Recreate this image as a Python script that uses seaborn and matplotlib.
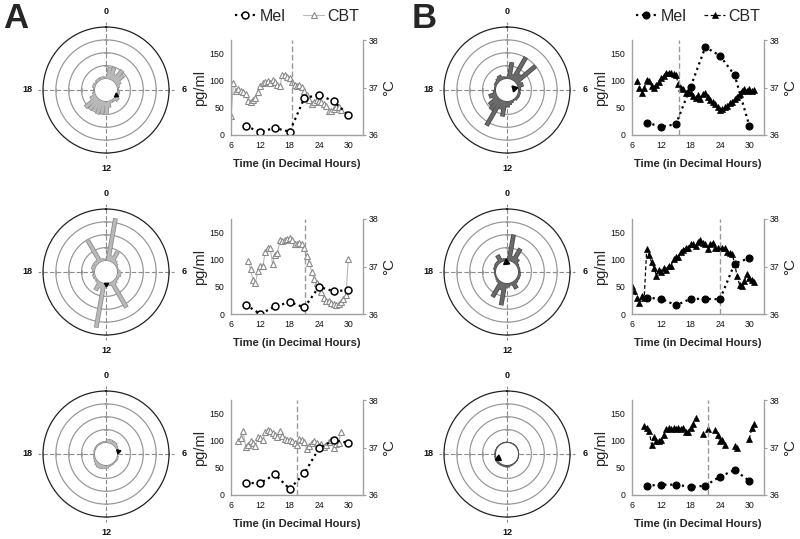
import numpy as np
import pandas as pd
import matplotlib
matplotlib.use("Agg")
import matplotlib.pyplot as plt
from matplotlib.lines import Line2D
import seaborn as sns

# Melatonin samples (pg/ml), one every 3 hours
mel_hours = [9, 12, 15, 18, 21, 24, 27, 30]
mel_a1 = [16, 6, 13, 6, 68, 74, 62, 37]
mel_a2 = [17, 0, 14, 22, 12, 50, 42, 44]
mel_a3 = [22, 22, 38, 11, 40, 86, 101, 96]
mel_b1 = [23, 15, 20, 89, 162, 146, 110, 17]
mel_b2 = [30, 28, 16, 28, 28, 27, 93, 103]
mel_b3 = [17, 19, 19, 15, 17, 34, 46, 26]

# Core body temperature (deg C), one every half hour from the start hour
cbt_step = 0.5
cbt_a1_start = 6.0
cbt_a1 = [36.40, 37.10, 36.93, 36.96, 36.93, 36.90, 36.86, 36.72, 36.70, 36.74,
          36.77, 36.91, 37.03, 37.09, 37.12, 37.14, 37.09, 37.16, 37.12, 37.05,
          37.03, 37.26, 37.26, 37.23, 37.19, 37.11, 37.05, 37.03, 37.05, 37.02,
          36.93, 36.84, 36.74, 36.65, 36.70, 36.74, 36.72, 36.70, 36.65, 36.61,
          36.51, 36.51, 36.54, 36.60, 36.58, 36.53]
cbt_a2_start = 9.5
cbt_a2 = [37.12, 36.94, 36.72, 36.66, 36.90, 37.02, 37.01, 37.30, 37.40, 37.40,
          37.05, 37.24, 37.28, 37.55, 37.54, 37.55, 37.58, 37.61, 37.55, 37.47,
          37.48, 37.50, 37.47, 37.38, 37.22, 37.08, 36.89, 36.74, 36.65, 36.57,
          36.47, 36.34, 36.28, 36.28, 36.23, 36.21, 36.18, 36.20, 36.25, 36.32,
          36.39, 37.15]
cbt_a3_start = 7.5
cbt_a3 = [37.13, 37.21, 37.34, 37.02, 37.06, 37.13, 37.09, 37.04, 37.22, 37.20,
          37.15, 37.32, 37.36, 37.35, 37.30, 37.26, 37.22, 37.35, 37.24, 37.18,
          37.16, 37.15, 37.13, 37.09, 37.06, 37.18, 37.15, 37.11, 36.96, 37.04,
          37.09, 37.13, 37.09, 37.04, 37.08, 37.02, 37.06, 37.11, 37.15, 36.98,
          37.08, 37.09, 37.33]
cbt_b1_start = 7.0
cbt_b1 = [37.14, 37.00, 36.89, 37.00, 37.16, 37.14, 37.03, 37.00, 37.05, 37.12,
          37.19, 37.24, 37.30, 37.31, 37.31, 37.28, 37.26, 37.07, 37.00, 36.96,
          36.89, 36.93, 36.89, 36.82, 36.77, 36.84, 36.76, 36.86, 36.89, 36.81,
          36.74, 36.70, 36.65, 36.58, 36.53, 36.54, 36.58, 36.61, 36.67, 36.70,
          36.75, 36.81, 36.86, 36.93, 36.96, 36.93, 36.96, 36.93, 36.95]
cbt_b2_start = 6.0
cbt_b2 = [36.59, 36.49, 36.33, 36.24, 36.38, 36.34, 37.36, 37.25, 37.09, 36.97,
          36.81, 36.93, 36.88, 36.97, 36.93, 37.02, 37.02, 37.16, 37.19, 37.20,
          37.31, 37.34, 37.40, 37.40, 37.47, 37.47, 37.43, 37.52, 37.56, 37.50,
          37.47, 37.36, 37.47, 37.50, 37.38, 37.38, 37.40, 37.40, 37.40, 37.31,
          37.29, 37.27, 37.05, 36.80, 36.62, 36.58, 36.70, 36.84, 36.76, 36.72,
          36.67]
nan = np.nan
cbt_b3_start = 8.5
cbt_b3 = [37.45, 37.42, 37.35, 37.06, 37.23, 37.13, 37.13, 37.16, 37.27, 37.40,
          37.42, 37.38, 37.42, 37.40, 37.42, 37.38, 37.42, 37.33, 37.33, 37.42,
          37.50, 37.62, nan, nan, 37.28, nan, 37.40, nan, nan, 37.36,
          37.26, 37.13, 37.16, 37.06, nan, nan, nan, 37.03, 36.99, nan,
          nan, nan, nan, 37.18, 37.41, 37.49]

# phase markers (dashed vertical lines, decimal hours)
dlmo_a = [18.4, 21.2, 19.6]
dlmo_b = [15.7, 24.1, 21.6]

# Rose histograms: 36 bins of 10 degrees, clockwise from 0 h
rose_step = 10
rose_a1 = [0.2, 0.9, 0.95, 0.5, 1.1, 0.9, 0.4, 0.2, 0.1, 0.05, 0.2, 0.1,
           0.1, 0.35, 0.2, 0.1, 0.2, 0.5, 0.9, 1.0, 1.1, 0.9, 1.1, 1.2,
           0.5, 0.2, 0.1, 0.05, 0.1, 0.2, 0.15, 0.1, 0.2, 0.1, 0.2, 0.1]
rose_a2 = [0.1, 3.35, 0.45, 0.93, 0.3, 0.2, 0.1, 0.1, 0.05, 0.2, 0.3, 0.2,
           0.15, 0.2, 0.3, 2.3, 0.2, 0.2, 0.1, 3.5, 0.45, 0.75, 0.2, 0.1,
           0.15, 0.2, 0.1, 0.05, 0.2, 0.3, 0.2, 0.3, 0.25, 1.94, 0.2, 0.15]
rose_a3 = [0.1, 0.25, 0.3, 0.2, 0.3, 0.2, 0.15, 0.1, 0.1, 0.05, 0.05, 0.1,
           0.1, 0.05, 0.05, 0.1, 0.1, 0.15, 0.2, 0.25, 0.3, 0.35, 0.3, 0.2,
           0.15, 0.1, 0.1, 0.05, 0.05, 0.1, 0.05, 0.1, 0.1, 0.05, 0.1, 0.1]
rose_b1 = [0.2, 1.3, 0.4, 2.05, 0.7, 2.0, 0.3, 0.45, 0.2, 0.1, 0.1, 0.2,
           0.1, 0.2, 0.1, 0.1, 0.2, 0.3, 0.4, 1.2, 0.7, 2.3, 1.1, 0.9,
           0.4, 0.6, 0.2, 0.1, 0.1, 0.1, 0.2, 0.2, 0.3, 0.4, 0.2, 0.1]
rose_b2 = [0.2, 2.06, 0.4, 1.2, 0.45, 0.2, 0.1, 0.15, 0.1, 0.1, 0.15, 0.2,
           0.15, 0.2, 0.25, 0.6, 0.1, 0.2, 0.3, 1.73, 0.6, 1.35, 0.2, 0.15,
           0.1, 0.05, 0.1, 0.15, 0.1, 0.2, 0.15, 0.25, 0.2, 0.62, 0.2, 0.15]
rose_b3 = [0.06, 0.04, 0.03, 0.04, 0.06, 0.03, 0.04, 0.03, 0.04, 0.06, 0.04, 0.03,
           0.04, 0.06, 0.04, 0.06, 0.08, 0.1, 0.08, 0.1, 0.12, 0.1, 0.12, 0.14,
           0.12, 0.1, 0.08, 0.06, 0.08, 0.06, 0.04, 0.06, 0.04, 0.03, 0.04, 0.06]

# mean vector (direction in degrees, radius)
mean_a = [(115, 0.0), (180, 0.0), (75, 0.1)]
mean_b = [(76, -0.3), (354, -0.15), (246, -0.15)]

sns.set_theme(style="white")
plt.rcParams["font.family"] = ["Liberation Sans", "DejaVu Sans"]

fig = plt.figure(figsize=(8, 5.39), dpi=100)
W, H = 800, 539


def px_rect(left, top, width, height):
    return [left / W, (H - top - height) / H, width / W, height / H]


def draw_rose(cx, cy, values, mean, dark):
    ax = fig.add_axes(px_rect(cx - 63, cy - 63, 126, 126), projection="polar")
    ax.set_theta_zero_location("N")
    ax.set_theta_direction(-1)
    ax.set_ylim(0, 4)
    ax.set_rorigin(-0.9)
    ax.grid(False)
    ax.set_yticks([])
    ax.set_xticks(np.radians([0, 90, 180, 270]))
    ax.set_xticklabels(["0", "6", "12", "18"], fontsize=6.5, fontweight="bold")
    ax.tick_params(axis="x", length=0, pad=4, colors="#111111")
    ax.spines["polar"].set_color("#222222")
    ax.spines["polar"].set_linewidth(0.9)
    ax.spines["inner"].set_color("#555555" if dark else "#8a8a8a")
    ax.spines["inner"].set_linewidth(0.8)

    ring_t = np.linspace(0, 2 * np.pi, 361)
    for r in [1, 2, 3]:
        ax.plot(ring_t, np.full_like(ring_t, r), color="#959595", lw=0.85, zorder=1)
    for t in np.radians([0, 90, 180, 270]):
        ax.plot([t, t], [0, 4.4], color="#8a8a8a", lw=0.8, ls=(0, (4, 2)),
                clip_on=False, zorder=1)
    for t, mk in zip(np.radians([0, 90, 180, 270]), ["_", "|", "_", "|"]):
        ax.plot([t] * 4, [1, 2, 3, 4], ls="none", marker=mk, ms=3, mew=0.8,
                color="#a0a0a0", clip_on=False, zorder=2)

    bar_t = np.radians(np.arange(len(values)) * rose_step)
    edge, face = ("#4a4a4a", "#6a6a6a") if dark else ("#8c8c8c", "#b9b9b9")
    ax.vlines(bar_t, 0, values, colors=edge, lw=3.4, capstyle="butt", zorder=3)
    ax.vlines(bar_t, 0, np.array(values) - 0.04, colors=face, lw=2.2,
              capstyle="butt", zorder=4)

    deg, rad = mean
    ax.plot([np.radians(deg)], [rad], marker=(3, 0, -deg), ms=5 if dark else 3.5,
            color="black", ls="none", clip_on=False, zorder=6)
    return ax


def draw_series(left, top, mel, cbt_start, cbt, dlmo, filled, legend):
    ax = fig.add_axes(px_rect(left, top, 132, 95))
    axt = ax.twinx()
    ax.set_zorder(axt.get_zorder() + 1)
    ax.patch.set_visible(False)

    cbt_df = pd.DataFrame({"hour": cbt_start + cbt_step * np.arange(len(cbt)),
                           "cbt": cbt})
    cbt_df["seg"] = cbt_df["cbt"].isna().cumsum()
    cbt_df = cbt_df.dropna()
    mel_df = pd.DataFrame({"hour": mel_hours, "mel": mel})

    if filled:
        cbt_kw = dict(color="black", linestyle=(0, (3, 2)), lw=0.9, marker="^",
                      markersize=4, markerfacecolor="black",
                      markeredgecolor="black", markeredgewidth=0.5)
        mel_kw = dict(color="black", linestyle=":", lw=1.6, marker="o",
                      markersize=5, markerfacecolor="black",
                      markeredgecolor="black", markeredgewidth=0.8)
    else:
        cbt_kw = dict(color="#b8b8b8", linestyle="-", lw=0.8, marker="^",
                      markersize=4.4, markerfacecolor="white",
                      markeredgecolor="#8a8a8a", markeredgewidth=0.8)
        mel_kw = dict(color="black", linestyle=":", lw=1.6, marker="o",
                      markersize=5, markerfacecolor="white",
                      markeredgecolor="black", markeredgewidth=1.1)

    sns.lineplot(data=cbt_df, x="hour", y="cbt", units="seg", estimator=None,
                 ax=axt, legend=False, **cbt_kw)
    sns.lineplot(data=mel_df, x="hour", y="mel", ax=ax, legend=False, **mel_kw)
    ax.axvline(dlmo, color="#999999", lw=1.0, ls=(0, (4, 2)), zorder=0)

    ax.set_xlim(6, 33)
    ax.set_ylim(0, 175)
    axt.set_ylim(36, 38)
    ax.set_xticks([6, 12, 18, 24, 30])
    ax.set_yticks([0, 50, 100, 150])
    axt.set_yticks([36, 37, 38])

    for a in (ax, axt):
        for s in a.spines.values():
            s.set_color("#a0a0a0")
            s.set_linewidth(1.0)
        a.spines["top"].set_visible(False)
    ax.spines["right"].set_visible(False)
    axt.spines["left"].set_visible(False)
    axt.spines["bottom"].set_visible(False)

    ax.tick_params(axis="y", labelsize=6.3, length=0, pad=5, colors="#111111")
    ax.tick_params(axis="x", labelsize=6.3, length=0, pad=4, colors="#111111")
    axt.tick_params(axis="y", labelsize=6.3, length=2.5, width=0.8, pad=1.5,
                    colors="#111111")
    axt.tick_params(axis="y", color="#a0a0a0")

    ax.set_xlabel("Time (in Decimal Hours)", fontsize=8, fontweight="bold",
                  labelpad=7)
    ax.set_ylabel("pg/ml", fontsize=10.5, labelpad=1.5)
    axt.set_ylabel("°C", fontsize=11, rotation=90, labelpad=3)

    if legend:
        handles = [Line2D([], [], **mel_kw), Line2D([], [], **cbt_kw)]
        ax.legend(handles, ["Mel", "CBT"], loc="center", ncol=2,
                  bbox_to_anchor=(0.5, 1.25), frameon=False, fontsize=11.5,
                  handlelength=1.35, handletextpad=0.2, columnspacing=1.1,
                  numpoints=1)
    return ax


rose_centers_y = [90, 272, 454]
series_tops = [40, 219, 400]

for i, (rose, mean) in enumerate(zip([rose_a1, rose_a2, rose_a3], mean_a)):
    draw_rose(106, rose_centers_y[i], rose, mean, dark=False)
for i, (rose, mean) in enumerate(zip([rose_b1, rose_b2, rose_b3], mean_b)):
    draw_rose(507, rose_centers_y[i], rose, mean, dark=True)

a_series = [(mel_a1, cbt_a1_start, cbt_a1), (mel_a2, cbt_a2_start, cbt_a2),
            (mel_a3, cbt_a3_start, cbt_a3)]
b_series = [(mel_b1, cbt_b1_start, cbt_b1), (mel_b2, cbt_b2_start, cbt_b2),
            (mel_b3, cbt_b3_start, cbt_b3)]
for i, (mel, start, cbt) in enumerate(a_series):
    draw_series(231, series_tops[i], mel, start, cbt, dlmo_a[i], False, i == 0)
for i, (mel, start, cbt) in enumerate(b_series):
    draw_series(632, series_tops[i], mel, start, cbt, dlmo_b[i], True, i == 0)

fig.text(3 / W, 1 - 2 / H, "A", fontsize=25, fontweight="bold", va="top", ha="left")
fig.text(412 / W, 1 - 2 / H, "B", fontsize=25, fontweight="bold", va="top", ha="left")

fig.savefig("out.png", dpi=100)
